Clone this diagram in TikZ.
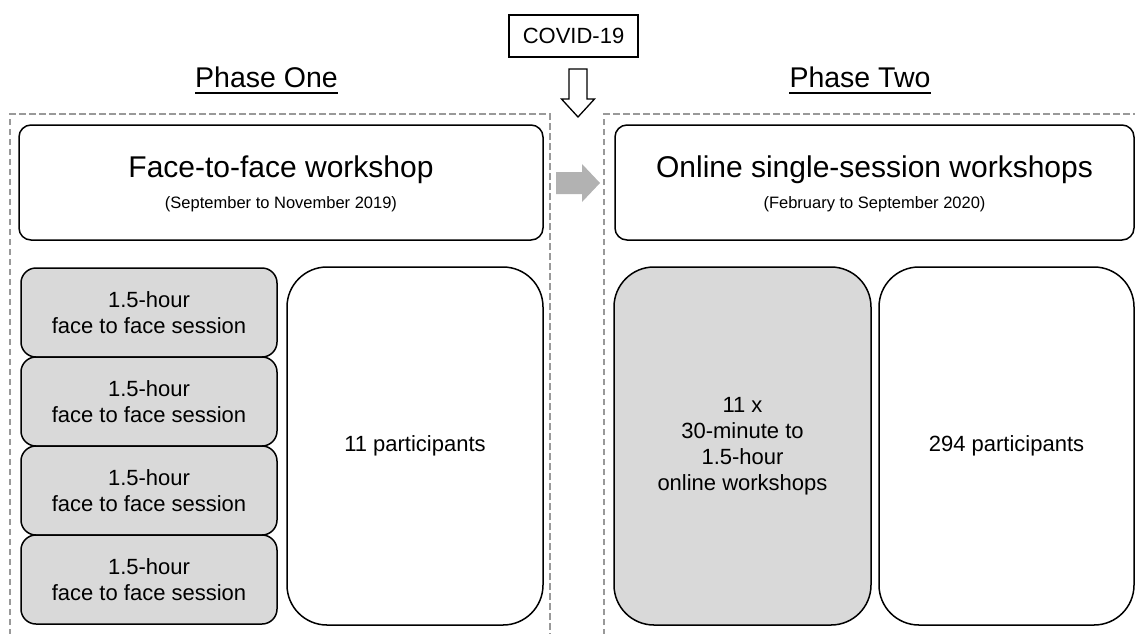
\documentclass[tikz,border=0pt]{standalone}
\usepackage{fontspec}
\setmainfont{Liberation Sans}
\begin{document}
\begin{tikzpicture}[x=1pt,y=-1pt,
  phasebox/.style={draw=black!40, line width=2pt, dash pattern=on 6.5pt off 3.5pt},
  headbox/.style={draw=black, line width=1.5pt, rounded corners=12pt, minimum width=524pt, minimum height=115pt, inner sep=0pt},
  sessbox/.style={draw=black, fill=black!15, line width=1.5pt, rounded corners=15pt, minimum width=256pt, minimum height=89pt, inner sep=0pt, align=center, font=\fontsize{22}{26}\selectfont},
  tallbox/.style={draw=black, line width=1.5pt, rounded corners=40pt, minimum width=256pt, minimum height=358pt, inner sep=0pt, align=center, font=\fontsize{22}{26}\selectfont},
  titletxt/.style={anchor=base, inner sep=0pt, font=\fontsize{30}{34}\selectfont},
  subtxt/.style={anchor=base, inner sep=0pt, font=\fontsize{16.5}{20}\selectfont},
  phasetxt/.style={anchor=base, inner sep=0pt, font=\fontsize{28.5}{32}\selectfont},
]
\useasboundingbox (0,0) rectangle (1135,633);
% dashed phase frames
\draw[phasebox] (10,645) -- (10,114) -- (550,114) -- (550,645);
\draw[phasebox] (604,645) -- (604,114) -- (1145,114);
% COVID box
\node[draw=black, line width=1.5pt, minimum width=129pt, minimum height=42pt, inner sep=0pt, font=\fontsize{22}{26}\selectfont] (covid) at (573.5,36) {COVID-19};
% hollow down arrow
\draw[line width=1.3pt, fill=white] (569,69) -- (587,69) -- (587,99) -- (594.5,99) -- (578,117) -- (561.5,99) -- (569,99) -- cycle;
% phase labels
\node[phasetxt] (p1) at (266.5,87) {Phase One};
\draw[line width=1.5pt] ([yshift=-6pt]p1.base west) -- ([yshift=-6pt]p1.base east);
\node[phasetxt] (p2) at (860,87) {Phase Two};
\draw[line width=1.5pt] ([yshift=-6pt]p2.base west) -- ([yshift=-6pt]p2.base east);
% header boxes
\node[headbox] (face) at (281,182.5) {};
\node[titletxt] (facet) at (281,177) {Face-to-face workshop};
\node[subtxt] (faces) at (281,208) {(September to November 2019)};
\node[headbox, minimum width=519pt] (online) at (874.5,182.5) {};
\node[titletxt] (onlinet) at (874.5,177) {Online single-session workshops};
\node[subtxt] (onlines) at (874.5,208) {(February to September 2020)};
% gray transition arrow
\fill[black!30] (556,172) -- (582,172) -- (582,164) -- (600,183) -- (582,202) -- (582,194) -- (556,194) -- cycle;
% phase one sessions
\node[sessbox] (s1) at (149,312.5) {1.5-hour\\face to face session};
\node[sessbox] (s2) at (149,401.5) {1.5-hour\\face to face session};
\node[sessbox] (s3) at (149,490.5) {1.5-hour\\face to face session};
\node[sessbox] (s4) at (149,579.5) {1.5-hour\\face to face session};
\node[tallbox] (part1) at (415,446) {11 participants};
% phase two
\node[tallbox, fill=black!15, minimum width=257pt] (ows) at (742.5,446) {11 x\\30-minute to\\1.5-hour\\online workshops};
\node[tallbox, minimum width=255pt] (part2) at (1006.5,446) {294 participants};
\end{tikzpicture}
\end{document}
